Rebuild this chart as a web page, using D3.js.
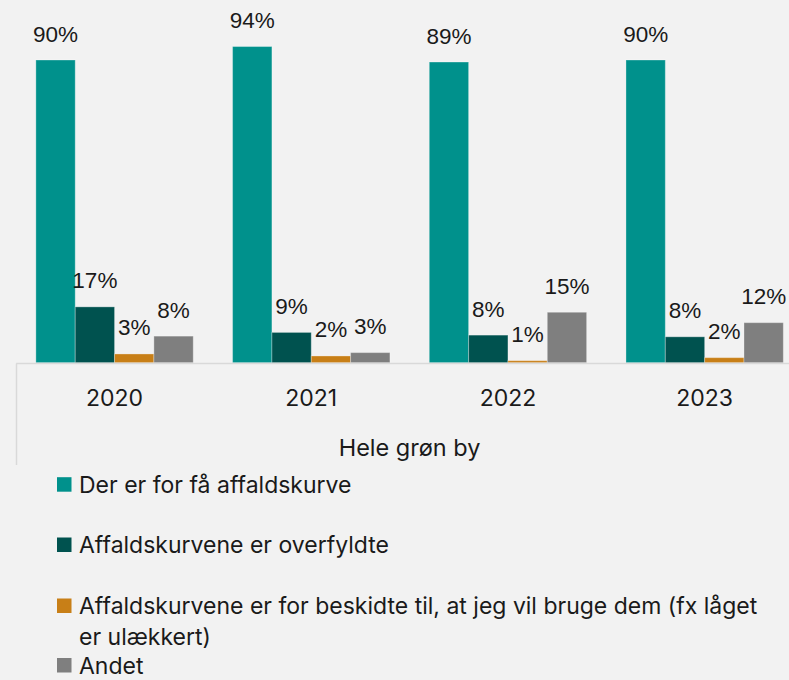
<!DOCTYPE html>
<html><head><meta charset="utf-8">
<script src="https://cdn.jsdelivr.net/npm/d3@7"></script>
<style>
html,body{margin:0;padding:0;background:#f2f2f2;overflow:hidden;}
svg{display:block;}
</style></head>
<body>
<svg id="c" width="789" height="680"></svg>
<script>
const years = ["2020", "2021", "2022", "2023"];
const seriesNames = [
  "Der er for få affaldskurve",
  "Affaldskurvene er overfyldte",
  "Affaldskurvene er for beskidte til, at jeg vil bruge dem (fx låget er ulækkert)",
  "Andet"
];
const tooFew = [90, 94, 89.4, 90];
const overfilled = [16.6, 9, 8.2, 7.7];
const tooDirty = [2.6, 2, 0.6, 1.5];
const other = [7.9, 3, 15, 11.9];
const axisTitle = "Hele grøn by";
const colors = ["#00918c", "#00524f", "#c87f17", "#7f7f7f"];

const series = [tooFew, overfilled, tooDirty, other];
const svg = d3.select("#c");

const x0 = d3.scaleBand().domain(years).range([16.2, 803]).paddingInner(0.2).paddingOuter(0.1);
const x1 = d3.scaleBand().domain(d3.range(4)).range([0, x0.bandwidth()]);
const y = d3.scaleLinear().domain([0, 90]).range([362.7, 60]);

const g = svg.append("g");
years.forEach((yr, i) => {
  const grp = g.append("g").attr("transform", `translate(${x0(yr)},0)`);
  series.forEach((s, k) => {
    grp.append("rect")
      .attr("x", x1(k))
      .attr("y", y(s[i]))
      .attr("width", x1.bandwidth())
      .attr("height", y(0) - y(s[i]))
      .attr("fill", colors[k])
      .attr("stroke", "rgba(255,255,255,0.3)")
      .attr("stroke-width", 1);
    grp.append("text")
      .attr("x", x1(k) + x1.bandwidth() / 2)
      .attr("y", y(s[i]) - 18.5)
      .attr("text-anchor", "middle")
      .attr("font-family", "Liberation Sans, Arial, sans-serif")
      .attr("font-size", 22.5)
      .attr("fill", "#1a1a1a")
      .text(Math.round(s[i]) + "%");
  });
});

// axis line
svg.append("line").attr("x1", 16.2).attr("x2", 803).attr("y1", 363.5).attr("y2", 363.5)
  .attr("stroke", "#d9d9d9").attr("stroke-width", 1.5);
svg.append("line").attr("x1", 16.5).attr("x2", 16.5).attr("y1", 363.5).attr("y2", 465)
  .attr("stroke", "#d9d9d9").attr("stroke-width", 1.5);

const font = "Inter, 'Open Sans', sans-serif";
years.forEach(yr => {
  svg.append("text")
    .attr("x", x0(yr) + x0.bandwidth() / 2)
    .attr("y", 406)
    .attr("text-anchor", "middle")
    .attr("font-family", font).attr("font-size", 23).attr("fill", "#1a1a1a")
    .text(yr);
});
svg.append("text")
  .attr("x", (16.2 + 803) / 2).attr("y", 456)
  .attr("text-anchor", "middle")
  .attr("font-family", font).attr("font-size", 23.5).attr("fill", "#1a1a1a")
  .text(axisTitle);

// legend
const legendRows = [
  {k: 0, lines: [seriesNames[0]], y: 492.7, lh: 0},
  {k: 1, lines: [seriesNames[1]], y: 553, lh: 0},
  {k: 2, lines: ["Affaldskurvene er for beskidte til, at jeg vil bruge dem (fx låget", "er ulækkert)"], y: 614, lh: 31},
  {k: 3, lines: [seriesNames[3]], y: 673.5, lh: 0}
];
legendRows.forEach(r => {
  svg.append("rect").attr("x", 57).attr("y", r.y - 15.5).attr("width", 14.5).attr("height", 14.5)
    .attr("fill", colors[r.k]);
  const t = svg.append("text").attr("x", 79).attr("y", r.y)
    .attr("font-family", font).attr("font-size", 23).attr("fill", "#1a1a1a");
  r.lines.forEach((l, j) => {
    t.append("tspan").attr("x", 79).attr("y", r.y + j * r.lh).text(l);
  });
});
</script>
</body></html>
